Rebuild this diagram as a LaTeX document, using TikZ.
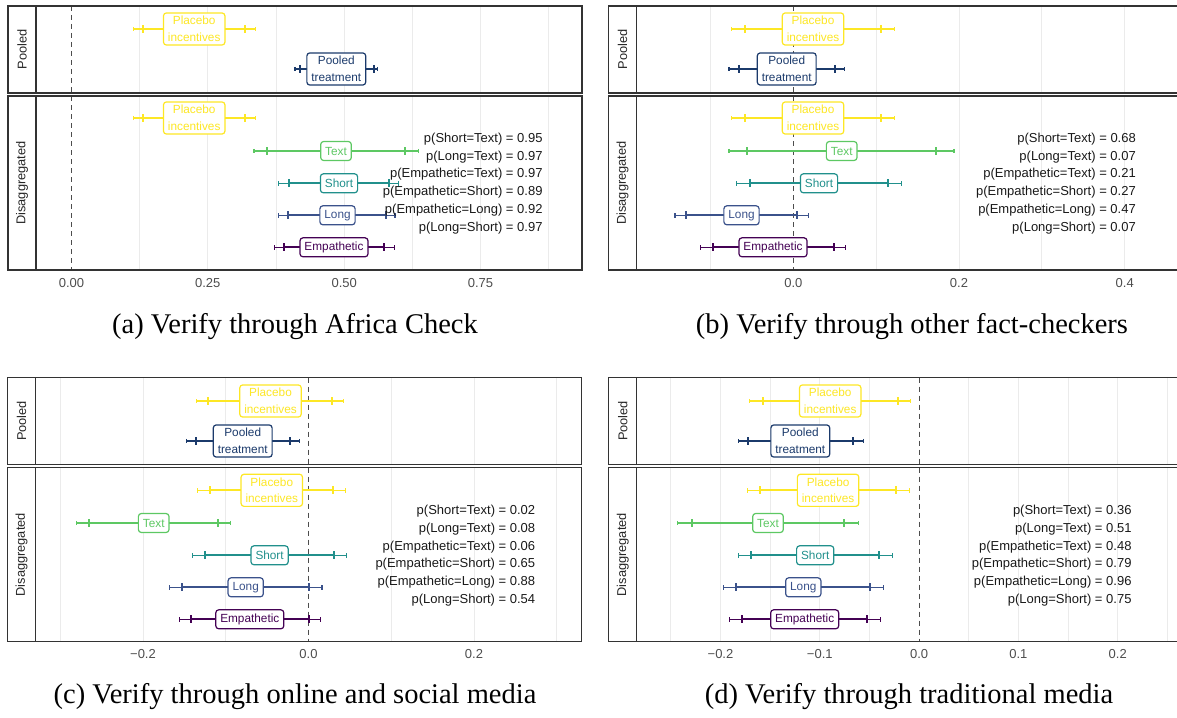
\documentclass[tikz,border=0pt]{standalone}
\usepackage{fontspec}
\setmainfont{Liberation Sans}
\newfontfamily\capfont{Liberation Serif}

\definecolor{plcyel}{HTML}{FDE725}
\definecolor{txtgrn}{HTML}{5DC863}
\definecolor{shtteal}{HTML}{21908C}
\definecolor{lngblue}{HTML}{3B528B}
\definecolor{empurp}{HTML}{440154}
\definecolor{poolnavy}{HTML}{1B3A6B}
\definecolor{gridgray}{HTML}{EBEBEB}
\definecolor{axgray}{HTML}{4D4D4D}
\definecolor{framegray}{HTML}{333333}

\tikzset{
  gridln/.style={draw=gridgray, line width=1pt},
  zeroln/.style={draw=axgray, dash pattern=on 5pt off 4pt, line width=1.1pt},
  frame/.style={draw=framegray, line width=1.1pt},
  ci95/.style={line width=1.1pt},
  ci90/.style={line width=2pt},
  est/.style={draw=#1, text=#1, fill=white, rounded corners=3pt, line width=1.2pt,
    inner xsep=4.5pt, font=\fontsize{11.8}{13}\selectfont, minimum height=19pt},
  est2/.style={est=#1, align=center, font=\fontsize{11.8}{16.5}\selectfont, inner ysep=3.5pt},
  strip/.style={rotate=90, text=black!85, font=\fontsize{12.8}{14}\selectfont},
  ticklab/.style={text=axgray, font=\fontsize{13}{15}\selectfont},
  pvals/.style={anchor=east, align=right, inner sep=0pt, text=black!90, font=\fontsize{13}{17.8}\selectfont},
  subcap/.style={font=\capfont\fontsize{28.5}{30}\selectfont}
}

% colour, y, lo95, lo90, hi90, hi95
\newcommand{\cibar}[6]{%
  \draw[#1,ci95] (#3,#2)--(#6,#2) (#3,#2-2.2)--(#3,#2+2.2) (#6,#2-2.2)--(#6,#2+2.2);
  \draw[#1,ci90] (#4,#2)--(#5,#2) (#4,#2-4)--(#4,#2+4) (#5,#2-4)--(#5,#2+4);
}

\begin{document}
\begin{tikzpicture}[x=1pt,y=-1pt]
\useasboundingbox (0,0) rectangle (1177,717);

% grid
\foreach \gx in {139.7,207.8,276,344.2,412.3,480.5,548.6}
  \draw[gridln] (\gx,6)--(\gx,93) (\gx,96)--(\gx,270);
\foreach \gx in {710.4,876.2,959,1041.9,1124.7}
  \draw[gridln] (\gx,6)--(\gx,93) (\gx,96)--(\gx,270);
\foreach \gx in {60.3,143,225.8,391.3,474,556.8}
  \draw[gridln] (\gx,377.5)--(\gx,464.5) (\gx,467.7)--(\gx,641.7);
\foreach \gx in {670.9,720.5,770.2,819.8,869.5,968.8,1018.4,1068.1,1117.7,1167.4}
  \draw[gridln] (\gx,377.5)--(\gx,464.5) (\gx,467.7)--(\gx,641.7);

% zero lines
\draw[zeroln] (71.5,6)--(71.5,93) (71.5,96)--(71.5,270);
\draw[zeroln] (793.3,6)--(793.3,93) (793.3,96)--(793.3,270);
\draw[zeroln] (308.5,377.5)--(308.5,464.5) (308.5,467.7)--(308.5,641.7);
\draw[zeroln] (919.1,377.5)--(919.1,464.5) (919.1,467.7)--(919.1,641.7);

% (a) Africa Check
\cibar{plcyel}{29}{133.3}{143.3}{245}{255.3}
\cibar{poolnavy}{69}{295}{300}{374}{377.7}
\cibar{plcyel}{118}{133.3}{143.3}{245}{255.3}
\cibar{txtgrn}{151}{254}{266.7}{405}{418.3}
\cibar{shtteal}{183.3}{278.7}{288.7}{389}{398.3}
\cibar{lngblue}{215.3}{278.7}{288.3}{386}{395}
\cibar{empurp}{247.3}{274.3}{284}{384}{394.3}
\node[est2=plcyel] (a-plcp) at (194.2,29) {Placebo\\incentives};
\node[est2=poolnavy] (a-pool) at (336.3,69) {Pooled\\treatment};
\node[est2=plcyel] (a-plc) at (194.2,118) {Placebo\\incentives};
\node[est=txtgrn] (a-txt) at (336,151) {Text};
\node[est=shtteal] (a-sht) at (339,183.3) {Short};
\node[est=lngblue] (a-lng) at (337.5,215.3) {Long};
\node[est=empurp] (a-emp) at (334,247.3) {Empathetic};
\node[pvals] (a-p) at (542.7,183.5) {p(Short=Text) = 0.95\\p(Long=Text) = 0.97\\p(Empathetic=Text) = 0.97\\p(Empathetic=Short) = 0.89\\p(Empathetic=Long) = 0.92\\p(Long=Short) = 0.97};

% (b) other fact-checkers
\cibar{plcyel}{29}{731.7}{745}{880.7}{894.7}
\cibar{poolnavy}{69}{729}{739}{835}{844.3}
\cibar{plcyel}{118}{731.7}{745}{880.7}{894.7}
\cibar{txtgrn}{151}{729}{747}{936}{954}
\cibar{shtteal}{183.3}{736.7}{750.3}{888.3}{901.7}
\cibar{lngblue}{215.3}{675}{685.7}{797.3}{808.3}
\cibar{empurp}{247.3}{700.7}{712.7}{834}{845.3}
\node[est2=plcyel] (b-plcp) at (813,29) {Placebo\\incentives};
\node[est2=poolnavy] (b-pool) at (786.7,69) {Pooled\\treatment};
\node[est2=plcyel] (b-plc) at (813,118) {Placebo\\incentives};
\node[est=txtgrn] (b-txt) at (841.7,151) {Text};
\node[est=shtteal] (b-sht) at (819,183.3) {Short};
\node[est=lngblue] (b-lng) at (741.5,215.3) {Long};
\node[est=empurp] (b-emp) at (773,247.3) {Empathetic};
\node[pvals] (b-p) at (1136,183.5) {p(Short=Text) = 0.68\\p(Long=Text) = 0.07\\p(Empathetic=Text) = 0.21\\p(Empathetic=Short) = 0.27\\p(Empathetic=Long) = 0.47\\p(Long=Short) = 0.07};

% (c) online and social media
\cibar{plcyel}{401}{196.4}{208}{331.8}{343.9}
\cibar{poolnavy}{441}{186.2}{196}{289.7}{299.1}
\cibar{plcyel}{490.3}{197.9}{209.6}{333.3}{345.4}
\cibar{txtgrn}{523}{76.4}{89.2}{217.5}{230.2}
\cibar{shtteal}{555.3}{192.2}{205}{333.7}{346.9}
\cibar{lngblue}{587.3}{169.7}{182.1}{309.3}{322}
\cibar{empurp}{619.3}{179.5}{191.1}{309.3}{320.5}
\node[est2=plcyel] (c-plcp) at (270.5,401) {Placebo\\incentives};
\node[est2=poolnavy] (c-pool) at (242.7,441) {Pooled\\treatment};
\node[est2=plcyel] (c-plc) at (271.8,490.3) {Placebo\\incentives};
\node[est=txtgrn] (c-txt) at (153.7,523) {Text};
\node[est=shtteal] (c-sht) at (269.6,555.3) {Short};
\node[est=lngblue] (c-lng) at (245.7,587.3) {Long};
\node[est=empurp] (c-emp) at (249.8,619.3) {Empathetic};
\node[pvals] (c-p) at (535.4,555.7) {p(Short=Text) = 0.02\\p(Long=Text) = 0.08\\p(Empathetic=Text) = 0.06\\p(Empathetic=Short) = 0.65\\p(Empathetic=Long) = 0.88\\p(Long=Short) = 0.54};

% (d) traditional media
\cibar{plcyel}{401}{749.9}{763}{897.7}{910.9}
\cibar{poolnavy}{441}{738.3}{748.4}{852.8}{863.3}
\cibar{plcyel}{490.3}{747.2}{760.3}{896.2}{909.4}
\cibar{txtgrn}{523}{677.6}{691.8}{844.2}{858.4}
\cibar{shtteal}{555.3}{738.6}{751}{879.4}{892.1}
\cibar{lngblue}{587.3}{723.3}{736}{870}{883.2}
\cibar{empurp}{619.3}{729.6}{742}{867.4}{880.2}
\node[est2=plcyel] (d-plcp) at (830.2,401) {Placebo\\incentives};
\node[est2=poolnavy] (d-pool) at (800.3,441) {Pooled\\treatment};
\node[est2=plcyel] (d-plc) at (828.1,490.3) {Placebo\\incentives};
\node[est=txtgrn] (d-txt) at (768,523) {Text};
\node[est=shtteal] (d-sht) at (815.2,555.3) {Short};
\node[est=lngblue] (d-lng) at (803.3,587.3) {Long};
\node[est=empurp] (d-emp) at (804.7,619.3) {Empathetic};
\node[pvals] (d-p) at (1131.7,555.7) {p(Short=Text) = 0.36\\p(Long=Text) = 0.51\\p(Empathetic=Text) = 0.48\\p(Empathetic=Short) = 0.79\\p(Empathetic=Long) = 0.96\\p(Long=Short) = 0.75};

% panel frames and strips
\draw[frame] (8,6) rectangle (582,93) (36,6)--(36,93);
\draw[frame] (8,96) rectangle (582,270) (36,96)--(36,270);
\draw[frame] (1180,6)--(608.3,6)--(608.3,93)--(1180,93) (636.7,6)--(636.7,93);
\draw[frame] (1180,96)--(608.3,96)--(608.3,270)--(1180,270) (636.7,96)--(636.7,270);
\draw[frame] (7.5,377.5) rectangle (581.3,464.5) (35.7,377.5)--(35.7,464.5);
\draw[frame] (7.5,467.7) rectangle (581.3,641.7) (35.7,467.7)--(35.7,641.7);
\draw[frame] (1180,377.5)--(608.7,377.5)--(608.7,464.5)--(1180,464.5) (636.8,377.5)--(636.8,464.5);
\draw[frame] (1180,467.7)--(608.7,467.7)--(608.7,641.7)--(1180,641.7) (636.8,467.7)--(636.8,641.7);

\node[strip] (a-s1) at (22,49.5) {Pooled};
\node[strip] (a-s2) at (22,183) {Disaggregated};
\node[strip] (b-s1) at (622.5,49.5) {Pooled};
\node[strip] (b-s2) at (622.5,183) {Disaggregated};
\node[strip] (c-s1) at (21.6,421) {Pooled};
\node[strip] (c-s2) at (21.6,554.7) {Disaggregated};
\node[strip] (d-s1) at (622.7,421) {Pooled};
\node[strip] (d-s2) at (622.7,554.7) {Disaggregated};

% axis labels
\node[ticklab] (a-t0) at (71.5,283) {0.00};
\node[ticklab] (a-t1) at (207.8,283) {0.25};
\node[ticklab] (a-t2) at (344.2,283) {0.50};
\node[ticklab] (a-t3) at (480.5,283) {0.75};
\node[ticklab] (b-t0) at (793.3,283) {0.0};
\node[ticklab] (b-t1) at (959,283) {0.2};
\node[ticklab] (b-t2) at (1124.7,283) {0.4};
\node[ticklab] (c-t0) at (143,654.3) {−0.2};
\node[ticklab] (c-t1) at (308.5,654.3) {0.0};
\node[ticklab] (c-t2) at (474,654.3) {0.2};
\node[ticklab] (d-t0) at (720.5,654.3) {−0.2};
\node[ticklab] (d-t1) at (819.8,654.3) {−0.1};
\node[ticklab] (d-t2) at (919.1,654.3) {0.0};
\node[ticklab] (d-t3) at (1018.4,654.3) {0.1};
\node[ticklab] (d-t4) at (1117.7,654.3) {0.2};

% sub-captions
\node[subcap] (cap-a) at (295,327) {(a) Verify through Africa Check};
\node[subcap] (cap-b) at (912,327) {(b) Verify through other fact-checkers};
\node[subcap] (cap-c) at (295,697) {(c) Verify through online and social media};
\node[subcap] (cap-d) at (909,697) {(d) Verify through traditional media};
\end{tikzpicture}
\end{document}
